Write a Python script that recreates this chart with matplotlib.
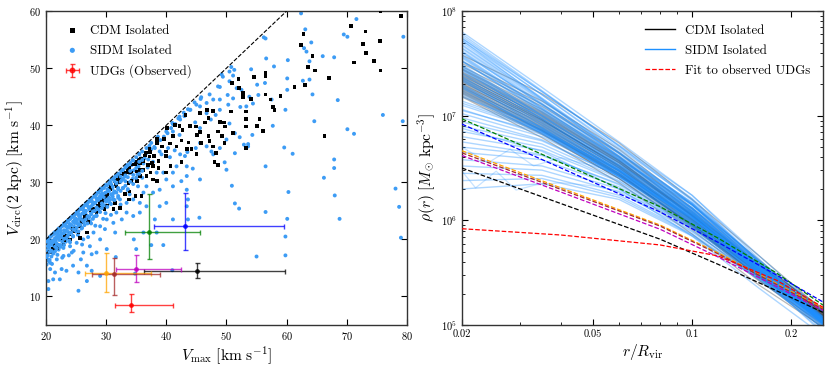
import numpy as np
import matplotlib
matplotlib.use("Agg")
import matplotlib.pyplot as plt
from matplotlib.ticker import FixedLocator, NullFormatter, LogLocator

plt.rcParams['font.family'] = 'serif'
plt.rcParams['font.serif'] = ['cmr10', 'DejaVu Serif']
plt.rcParams['mathtext.fontset'] = 'cm'
plt.rcParams['axes.formatter.use_mathtext'] = True

# ---- left panel data: (Vmax, Vcirc(2kpc)) ----
cdm_points = [
    (75.6, 60.0), (79.0, 59.1), (70.7, 57.4), (73.1, 56.4), (62.8, 56.0), (75.5, 54.8), (72.7, 54.2),
    (62.4, 54.1), (73.2, 52.7), (64.3, 52.1), (74.5, 51.2), (71.2, 51.0), (63.6, 50.2), (64.7, 49.6),
    (75.6, 49.6), (61.3, 46.7), (63.0, 47.1), (67.0, 48.3), (59.0, 45.1), (50.9, 47.4), (54.6, 48.4),
    (56.5, 48.6), (56.5, 49.2), (52.0, 48.1), (52.1, 46.5), (52.7, 45.6), (52.8, 45.0), (54.1, 44.6),
    (56.5, 45.4), (57.3, 44.5), (57.7, 43.2), (58.0, 42.7), (53.3, 42.4), (50.8, 42.4), (53.2, 41.1),
    (55.5, 41.1), (53.3, 39.8), (55.1, 39.9), (56.1, 39.0), (49.6, 40.5), (48.9, 40.6), (49.8, 39.8),
    (51.1, 38.6), (49.3, 38.1), (53.3, 36.0), (48.6, 38.9), (47.0, 38.1), (47.2, 37.2), (47.8, 36.3),
    (49.7, 36.9), (48.3, 35.1), (48.0, 33.5), (48.6, 33.0), (66.3, 38.1), (46.8, 42.7), (47.8, 42.5),
    (45.6, 42.1), (47.0, 41.3), (46.4, 40.5), (44.9, 39.8), (45.6, 38.8), (45.8, 36.9), (45.1, 38.3),
    (43.9, 39.9), (42.7, 39.2), (43.2, 41.8), (42.2, 39.9), (42.5, 37.3), (43.7, 37.0), (45.0, 35.0),
    (44.2, 35.8), (43.4, 35.8), (42.5, 33.5), (41.7, 36.3), (41.1, 38.1), (40.6, 36.8), (39.6, 37.6),
    (40.0, 35.4), (39.3, 36.3), (38.4, 36.9), (39.9, 34.6), (40.7, 32.8), (39.9, 31.7), (41.5, 40.0),
    (40.1, 39.5), (38.4, 37.6),
    (36.2, 33.7), (37.0, 33.0), (37.8, 32.8), (38.7, 32.5), (35.6, 32.2), (37.4, 31.7), (36.7, 31.1),
    (37.8, 30.5), (38.4, 30.2), (35.6, 31.1), (34.8, 33.1), (34.2, 31.7), (35.1, 30.2), (33.7, 29.9),
    (35.4, 33.9), (33.9, 32.5), (33.2, 31.6), (32.3, 31.1), (31.7, 29.3), (33.9, 28.4), (33.1, 27.9),
    (31.2, 27.0), (31.5, 26.4), (30.1, 27.6), (30.2, 27.8), (29.0, 26.4), (29.7, 25.3), (28.4, 24.7),
    (27.9, 25.0), (27.0, 23.0), (26.5, 24.1), (25.6, 22.3), (25.4, 21.2), (24.5, 21.8), (24.0, 20.0),
    (23.4, 20.6), (22.9, 19.1), (22.0, 18.8), (21.2, 18.3), (20.7, 17.7), (20.4, 17.8), (26.8, 21.2),
    (25.6, 20.3), (27.8, 25.3), (31.4, 30.2), (32.4, 30.9), (33.6, 32.2), (34.4, 33.1), (35.0, 33.6),
    (35.8, 34.2), (36.6, 35.2), (35.6, 33.4), (32.2, 30.1), (30.0, 27.4), (29.4, 26.6), (30.8, 29.4),
    (28.6, 25.8), (27.5, 25.2), (25.9, 23.0), (24.9, 21.8), (23.9, 21.0), (22.8, 19.8), (21.9, 19.0),
    (26.2, 23.4), (26.9, 24.0), (28.0, 25.0), (29.0, 26.5), (30.6, 28.8), (32.0, 30.5), (33.0, 31.4),
    (33.4, 31.7), (34.2, 30.2), (35.1, 31.9), (36.2, 32.2), (37.2, 34.5), (37.9, 34.6), (37.3, 35.3),
    (36.5, 34.7), (38.7, 33.7), (37.6, 33.4), (35.9, 27.6), (34.9, 27.6), (33.8, 27.0), (32.3, 25.5),
    (31.2, 25.3), (30.1, 25.8), (29.6, 26.9), (28.8, 25.6), (26.6, 23.7), (24.6, 21.5), (23.1, 20.4),
    (21.5, 19.0), (21.8, 18.5), (23.0, 19.8), (31.6, 29.6), (34.0, 31.8), (37.2, 35.8),
]

sidm_points = [
    (62.4, 59.6), (71.6, 58.6), (69.5, 55.9), (70.1, 55.5), (63.1, 56.8), (79.4, 55.5), (56.5, 55.2),
    (56.2, 55.4), (64.1, 54.5), (62.9, 53.5), (63.3, 52.9), (63.8, 51.2), (66.0, 52.1), (67.9, 51.9),
    (56.6, 51.7), (60.2, 51.4), (57.9, 50.3), (54.1, 49.8), (51.3, 49.7), (49.2, 48.9), (50.8, 50.2),
    (51.1, 48.7), (50.5, 47.7), (48.9, 46.7), (50.2, 45.3), (51.7, 46.5), (52.5, 46.2), (53.8, 45.0),
    (55.1, 47.1), (55.3, 45.3), (56.4, 47.4), (60.1, 46.2), (62.7, 47.8), (63.8, 48.0), (64.3, 45.4),
    (60.1, 48.2), (57.5, 44.5), (68.5, 44.4), (64.6, 40.7), (59.8, 42.7), (57.7, 39.9), (76.0, 41.8),
    (79.3, 40.7), (70.1, 39.3), (71.2, 38.5), (59.6, 36.1), (61.0, 35.0), (67.9, 34.0), (67.9, 32.5),
    (66.2, 30.8), (60.3, 28.3), (68.0, 27.7), (78.1, 28.9), (78.7, 25.7), (79.0, 20.3), (68.8, 23.6),
    (56.5, 32.8), (56.5, 24.8), (51.4, 26.3), (52.1, 25.4), (50.9, 29.4), (60.1, 23.6), (59.8, 20.5),
    (59.8, 17.2), (55.0, 17.0), (53.6, 36.3), (52.2, 37.9), (51.4, 35.1), (49.7, 33.5), (50.0, 32.2),
    (52.9, 36.6), (53.6, 36.7), (54.3, 38.3), (51.4, 38.6), (50.5, 40.3), (52.3, 43.2), (53.3, 43.3),
    (54.4, 43.8), (47.8, 44.5), (46.7, 43.9), (45.8, 44.9), (44.7, 44.0), (45.6, 43.3), (43.9, 42.7),
    (42.9, 42.2), (42.2, 41.5), (43.6, 42.8), (42.0, 41.2), (41.0, 40.4), (41.1, 40.2), (45.6, 36.9),
    (44.9, 36.0), (47.5, 35.4), (47.8, 34.9), (46.7, 36.3), (48.9, 36.0), (50.0, 37.5), (43.5, 35.3),
    (43.1, 34.6), (42.3, 34.9), (41.7, 32.8), (43.4, 32.8), (44.4, 32.4), (45.6, 30.5), (43.4, 31.1),
    (42.5, 30.2), (43.4, 28.7), (41.1, 29.3), (40.0, 30.5), (41.1, 31.7), (43.6, 27.0), (43.4, 25.8),
    (45.5, 23.8), (43.6, 23.5), (41.1, 23.5), (39.5, 19.0), (37.5, 19.0), (35.0, 18.3), (34.6, 20.0),
    (36.2, 21.2), (38.4, 21.2), (38.1, 23.5), (38.9, 25.8), (40.0, 26.4), (36.7, 25.8), (35.6, 24.7),
    (34.5, 24.1), (33.4, 24.7), (32.6, 23.5), (31.2, 22.9), (31.5, 21.2), (29.8, 21.8), (29.0, 20.0),
    (30.1, 18.3), (28.4, 17.7), (27.3, 18.8), (26.2, 17.7), (25.8, 16.5), (26.8, 15.4), (27.6, 14.5),
    (25.4, 14.2), (24.5, 15.4), (23.4, 14.5), (22.6, 14.8), (21.5, 14.2), (20.7, 14.8), (21.2, 13.0),
    (20.4, 12.7), (22.3, 13.0), (25.4, 11.0), (26.8, 12.7), (20.4, 11.3), (29.0, 13.6), (27.6, 17.4),
    (24.3, 17.7), (22.9, 17.1), (21.8, 16.5), (20.7, 15.9), (24.0, 18.8), (25.1, 19.4), (26.2, 20.0),
    (27.9, 21.2), (29.0, 22.3), (30.1, 23.5), (28.4, 24.1), (27.3, 23.2), (31.7, 24.7), (30.6, 26.4),
    (32.3, 27.0), (33.4, 26.4), (34.5, 27.0), (35.6, 26.4), (36.2, 28.2), (35.3, 29.3), (36.7, 29.3),
    (37.8, 28.2), (38.9, 28.7), (39.5, 31.7), (38.4, 31.7), (40.6, 34.4), (41.4, 35.6), (38.9, 35.4),
    (38.1, 36.0), (37.5, 36.9), (36.7, 36.0), (37.2, 36.4), (38.6, 38.0), (40.0, 38.9), (41.1, 38.9),
    (42.2, 38.3), (46.7, 42.1), (48.2, 41.8), (48.9, 42.7), (44.8, 40.5), (45.6, 39.5), (47.4, 41.0),
    (48.9, 44.5), (50.3, 43.6), (51.1, 44.7), (41.0, 14.6), (34.8, 14.0), (31.6, 16.9),
    (20.2, 20.0), (20.3, 19.2), (20.5, 18.5), (20.6, 20.3), (20.8, 19.6), (21.0, 20.8), (21.1, 19.8),
    (21.2, 18.9), (21.4, 21.0), (21.5, 20.2), (21.7, 19.4), (21.8, 21.5), (22.0, 20.8), (22.1, 21.7),
    (22.2, 19.9), (22.4, 22.0), (22.5, 21.1), (22.7, 20.3), (22.8, 22.4), (23.0, 21.6), (23.1, 22.7),
    (23.2, 20.8), (23.4, 23.0), (23.5, 22.2), (23.7, 21.3), (23.8, 23.4), (24.0, 22.6), (24.1, 23.7),
    (24.2, 21.9), (24.4, 24.0), (24.5, 23.1), (24.7, 22.2), (24.8, 24.3), (25.0, 23.6), (25.1, 24.6),
    (25.2, 22.8), (25.4, 25.0), (25.5, 24.1), (25.7, 23.2), (25.8, 25.3), (26.0, 24.5), (26.2, 25.6),
    (26.3, 23.6), (26.5, 26.0), (26.6, 25.0), (26.8, 24.2), (27.0, 26.5), (27.1, 25.6), (27.3, 26.9),
    (27.4, 24.8), (27.6, 27.2), (27.8, 26.1), (28.0, 27.5), (28.1, 25.4), (28.3, 27.8), (28.5, 26.8),
    (28.7, 28.2), (28.9, 27.3), (29.0, 25.9), (29.2, 28.6), (29.4, 27.8), (29.6, 29.0), (29.8, 28.1),
    (30.0, 26.6), (30.2, 29.5), (30.4, 28.6), (30.7, 30.0), (30.9, 29.1), (31.1, 27.5), (31.3, 30.5),
    (31.6, 29.6), (31.8, 30.9), (32.0, 28.8), (32.3, 31.4), (32.6, 30.4), (32.9, 31.8), (33.2, 30.2),
    (33.5, 32.4), (33.9, 31.6), (34.2, 33.0), (34.6, 32.1), (35.0, 33.5), (35.4, 32.8), (35.8, 34.2),
    (36.2, 33.3), (36.6, 35.0), (37.0, 34.0), (37.5, 35.8), (38.0, 36.2), (38.5, 36.9), (39.0, 37.4),
    (39.6, 38.0), (40.2, 38.6), (40.8, 39.5), (41.5, 40.2), (42.3, 41.0), (43.0, 41.6), (44.0, 42.7),
    (45.0, 43.6), (45.7, 44.6), (47.2, 45.4), (48.6, 46.8), (49.4, 48.5), (50.5, 49.4),
    (20.1, 17.4), (20.2, 16.6), (20.4, 17.9), (20.9, 17.0), (21.3, 17.8), (21.6, 18.6), (22.1, 18.2),
    (22.4, 19.0), (22.9, 18.5), (23.3, 19.6), (23.6, 20.2), (24.0, 19.5), (24.5, 20.6), (24.9, 21.4),
    (25.3, 20.8), (25.9, 21.9), (26.4, 22.5), (26.9, 23.3), (27.5, 22.8), (28.0, 24.0), (28.6, 24.9),
    (29.3, 25.5), (29.9, 24.6), (30.5, 26.9), (31.2, 28.1), (32.0, 27.3), (32.8, 29.0), (33.6, 28.6),
    (34.4, 30.6), (35.2, 31.4), (36.0, 30.8), (36.9, 32.6), (37.8, 33.6), (39.2, 34.9), (40.3, 36.0),
    (20.1, 15.6), (20.5, 16.2), (21.0, 15.7), (21.9, 17.3), (22.7, 16.8), (23.8, 17.2), (24.6, 18.0),
    (26.0, 19.1), (27.0, 20.4), (28.2, 22.4), (29.5, 23.6), (30.8, 24.3), (32.4, 26.1), (33.9, 27.9),
    (20.3, 19.8), (20.7, 20.5), (21.3, 21.1), (21.9, 21.2), (22.6, 22.3), (23.3, 22.9), (23.9, 23.5),
    (24.6, 24.1), (25.3, 24.9), (26.1, 25.8), (26.8, 26.4), (27.6, 26.6), (28.4, 28.1), (29.1, 28.9),
    (29.9, 29.5), (30.6, 30.3), (31.5, 31.0), (32.5, 32.0), (33.4, 33.0), (34.4, 33.9), (35.5, 35.0),
    (20.6, 19.0), (21.6, 19.9), (22.3, 20.6), (23.1, 21.3), (23.9, 22.1), (24.7, 22.9), (25.6, 23.6),
    (26.5, 24.6), (27.3, 25.4), (28.2, 26.4), (29.1, 27.1), (30.1, 28.2), (31.0, 28.9), (32.1, 30.0),
    (33.1, 31.0), (34.1, 31.9), (35.2, 33.0), (36.4, 34.2),
]

# extra SIDM haloes in the dense band just below the V_circ = V_max line
sidm_band = [
    (20.0, 19.6), (20.0, 18.1), (20.0, 16.9), (20.3, 20.0), (20.3, 18.8), (20.3, 17.2),
    (20.6, 19.5), (20.6, 17.8), (20.6, 16.4), (20.9, 20.6), (20.9, 19.1), (20.9, 18.0),
    (21.2, 20.9), (21.2, 19.5), (21.2, 17.5), (21.5, 21.3), (21.5, 18.7), (21.5, 17.9),
    (21.8, 20.5), (21.8, 19.2), (21.8, 18.4), (22.1, 21.9), (22.1, 20.2), (22.1, 19.0),
    (22.4, 21.5), (22.4, 20.6), (22.4, 18.7), (22.7, 22.4), (22.7, 21.0), (22.7, 19.6),
    (23.0, 22.8), (23.0, 20.1), (23.0, 19.0), (23.3, 22.3), (23.3, 21.5), (23.3, 20.2),
    (23.6, 23.3), (23.6, 22.0), (23.6, 20.6), (23.9, 22.7), (23.9, 21.0), (23.9, 19.8),
    (24.2, 23.9), (24.2, 22.5), (24.2, 21.2), (24.5, 24.2), (24.5, 21.8), (24.5, 20.5),
    (24.8, 23.5), (24.8, 22.9), (24.8, 21.6), (25.1, 24.8), (25.1, 23.3), (25.1, 22.0),
    (25.4, 24.4), (25.4, 22.5), (25.4, 21.4), (25.7, 25.4), (25.7, 24.0), (25.7, 22.6),
    (26.0, 25.7), (26.0, 23.4), (26.0, 22.0), (26.3, 25.0), (26.3, 24.6), (26.3, 23.0),
    (26.6, 26.3), (26.6, 24.9), (26.6, 23.5), (26.9, 25.9), (26.9, 24.0), (26.9, 22.8),
    (27.2, 26.8), (27.2, 25.3), (27.2, 23.9), (27.5, 27.1), (27.5, 25.8), (27.5, 24.4),
    (27.8, 26.5), (27.8, 24.9), (27.8, 23.6), (28.1, 27.7), (28.1, 26.4), (28.1, 25.0),
    (28.4, 27.2), (28.4, 25.6), (28.4, 24.2), (28.7, 28.3), (28.7, 26.9), (28.7, 25.3),
    (29.0, 28.6), (29.0, 27.6), (29.0, 24.8), (29.3, 28.0), (29.3, 26.3), (29.3, 25.5),
    (29.6, 29.1), (29.6, 27.4), (29.6, 26.0), (29.9, 29.5), (29.9, 28.2), (29.9, 26.8),
    (30.2, 28.8), (30.2, 27.0), (30.2, 25.7), (30.5, 30.0), (30.5, 28.5), (30.5, 27.3),
    (30.8, 29.7), (30.8, 27.9), (30.8, 26.2), (31.1, 30.6), (31.1, 29.2), (31.1, 27.0),
    (31.4, 30.2), (31.4, 28.4), (31.4, 26.9), (31.7, 31.2), (31.7, 29.8), (31.7, 28.2),
    (32.0, 31.5), (32.0, 29.0), (32.0, 27.6), (32.4, 31.0), (32.4, 30.1), (32.4, 28.5),
    (32.8, 32.2), (32.8, 30.6), (32.8, 29.0), (33.2, 32.6), (33.2, 31.2), (33.2, 29.4),
    (33.6, 33.0), (33.6, 30.9), (33.6, 28.8), (34.0, 33.4), (34.0, 32.0), (34.0, 30.1),
    (34.5, 33.8), (34.5, 31.3), (34.5, 29.7), (35.0, 34.4), (35.0, 32.5), (35.0, 30.8),
    (35.5, 34.9), (35.5, 33.6), (35.5, 31.5), (36.0, 35.4), (36.0, 33.9), (36.0, 32.0),
]

# observed UDGs (Vmax, Vcirc) with asymmetric ranges
udg_vmax = [37.2, 43.1, 45.1, 35.0, 30.0, 31.3, 34.2]
udg_vmax_lo = [33.1, 37.9, 36.3, 31.6, 26.5, 27.7, 31.5]
udg_vmax_hi = [45.6, 59.5, 59.8, 42.4, 37.5, 39.0, 41.1]
udg_vcirc = [21.35, 22.35, 14.4, 14.9, 14.2, 14.0, 8.5]
udg_vcirc_lo = [16.6, 18.1, 13.2, 12.6, 10.7, 10.2, 7.2]
udg_vcirc_hi = [27.9, 28.2, 15.8, 17.2, 17.7, 16.8, 10.35]
udg_colors = ['green', 'blue', 'black', 'm', 'orange', 'brown', 'red']

# ---- right panel data: log10 density profiles ----
r_nodes = [0.02, 0.035, 0.06, 0.1, 0.16, 0.25]
cdm_profiles = [
    [7.58, 7.21, 6.74, 6.20, 5.66, 5.14], [7.52, 7.14, 6.68, 6.15, 5.62, 5.12],
    [7.47, 7.09, 6.64, 6.11, 5.58, 5.10], [7.44, 7.04, 6.60, 6.08, 5.57, 5.11],
    [7.41, 7.02, 6.57, 6.05, 5.54, 5.08], [7.39, 6.99, 6.55, 6.04, 5.55, 5.12],
    [7.37, 6.97, 6.52, 6.01, 5.52, 5.09], [7.35, 6.96, 6.52, 6.02, 5.51, 5.06],
    [7.33, 6.94, 6.50, 6.00, 5.50, 5.08], [7.31, 6.92, 6.48, 5.98, 5.49, 5.07],
    [7.30, 6.93, 6.50, 6.01, 5.53, 5.13], [7.28, 6.89, 6.45, 5.96, 5.47, 5.05],
    [7.27, 6.90, 6.47, 5.99, 5.51, 5.10], [7.25, 6.87, 6.44, 5.95, 5.46, 5.04],
    [7.24, 6.86, 6.43, 5.94, 5.47, 5.06], [7.22, 6.85, 6.43, 5.96, 5.50, 5.11],
    [7.21, 6.83, 6.40, 5.91, 5.42, 5.01], [7.19, 6.82, 6.40, 5.93, 5.46, 5.07],
    [7.18, 6.79, 6.36, 5.87, 5.38, 4.98], [7.36, 6.98, 6.55, 6.06, 5.58, 5.16],
    [7.42, 7.03, 6.58, 6.05, 5.52, 5.03], [7.29, 6.91, 6.47, 5.97, 5.45, 4.99],
    [7.50, 7.11, 6.65, 6.12, 5.60, 5.13], [7.32, 6.95, 6.53, 6.05, 5.57, 5.15],
    [7.26, 6.88, 6.45, 5.95, 5.43, 4.97], [7.38, 7.00, 6.56, 6.04, 5.53, 5.07],
    [7.45, 7.06, 6.61, 6.09, 5.57, 5.09], [7.23, 6.86, 6.44, 5.96, 5.49, 5.09],
    [7.34, 6.96, 6.51, 6.00, 5.48, 5.02], [7.40, 7.01, 6.57, 6.07, 5.57, 5.12],
]
sidm_profiles = [
    [7.80, 7.27, 6.75, 6.24, 5.63, 5.05], [7.76, 7.23, 6.71, 6.21, 5.61, 5.04],
    [7.72, 7.20, 6.69, 6.20, 5.60, 5.05], [7.78, 7.24, 6.71, 6.19, 5.60, 5.07],
    [7.74, 7.20, 6.67, 6.16, 5.57, 5.03], [7.70, 7.17, 6.65, 6.15, 5.57, 5.04],
    [7.67, 7.15, 6.64, 6.15, 5.58, 5.06], [7.64, 7.12, 6.61, 6.12, 5.55, 5.02],
    [7.61, 7.10, 6.60, 6.12, 5.56, 5.04], [7.58, 7.08, 6.59, 6.11, 5.55, 5.03],
    [7.55, 7.06, 6.57, 6.10, 5.55, 5.05], [7.52, 7.03, 6.55, 6.09, 5.54, 5.02],
    [7.49, 7.01, 6.54, 6.08, 5.54, 5.04], [7.46, 6.99, 6.52, 6.07, 5.53, 5.01],
    [7.43, 6.97, 6.51, 6.07, 5.54, 5.05], [7.40, 6.95, 6.50, 6.06, 5.53, 5.03],
    [7.37, 6.93, 6.48, 6.05, 5.52, 5.02], [7.34, 6.91, 6.47, 6.04, 5.53, 5.05],
    [7.30, 6.88, 6.45, 6.03, 5.52, 5.03], [7.26, 6.86, 6.44, 6.03, 5.52, 5.04],
    [7.22, 6.83, 6.42, 6.02, 5.52, 5.05], [7.18, 6.89, 6.49, 6.01, 5.51, 5.03],
    [7.14, 6.87, 6.48, 6.00, 5.51, 5.04], [7.10, 6.85, 6.47, 6.00, 5.51, 5.05],
    [7.06, 6.82, 6.45, 5.99, 5.50, 5.02], [7.02, 6.80, 6.44, 5.98, 5.50, 5.04],
    [6.98, 6.77, 6.42, 5.97, 5.49, 5.01], [6.94, 6.76, 6.42, 5.97, 5.50, 5.05],
    [6.90, 6.73, 6.40, 5.96, 5.49, 5.03], [6.85, 6.70, 6.38, 5.95, 5.48, 5.02],
    [6.80, 6.67, 6.37, 5.95, 5.49, 5.04], [6.75, 6.63, 6.34, 5.93, 5.47, 5.00],
    [6.70, 6.62, 6.35, 5.94, 5.48, 5.03], [6.65, 6.58, 6.32, 5.92, 5.47, 5.01],
    [6.58, 6.52, 6.30, 5.90, 5.45, 4.99], [6.52, 6.48, 6.27, 5.89, 5.46, 5.02],
    [6.45, 6.43, 6.24, 5.87, 5.44, 4.98], [6.38, 6.40, 6.22, 5.86, 5.43, 4.97],
    [6.30, 6.35, 6.20, 5.85, 5.44, 5.01], [7.74, 7.23, 6.72, 6.24, 5.66, 5.12],
    [7.60, 7.11, 6.62, 6.16, 5.62, 5.13], [7.45, 6.97, 6.49, 6.04, 5.50, 4.96],
    [7.35, 6.88, 6.42, 5.99, 5.46, 4.94], [7.72, 7.16, 6.61, 6.08, 5.48, 4.92],
    [7.05, 6.84, 6.48, 6.02, 5.56, 5.14], [6.88, 6.66, 6.30, 5.85, 5.35, 4.90],
    [7.52, 7.05, 6.58, 6.15, 5.60, 5.08], [7.28, 6.85, 6.41, 5.98, 5.47, 5.00],
    [7.68, 7.16, 6.65, 6.17, 5.60, 5.06], [7.62, 7.11, 6.61, 6.14, 5.58, 5.05],
    [7.57, 7.07, 6.58, 6.12, 5.57, 5.06], [7.53, 7.04, 6.56, 6.11, 5.57, 5.07],
    [7.48, 7.00, 6.53, 6.09, 5.55, 5.04], [7.44, 6.97, 6.52, 6.09, 5.56, 5.06],
    [7.41, 6.95, 6.50, 6.07, 5.54, 5.03], [7.38, 6.93, 6.48, 6.06, 5.54, 5.04],
    [7.33, 6.89, 6.46, 6.04, 5.53, 5.04], [7.29, 6.87, 6.45, 6.03, 5.52, 5.02],
    [7.24, 6.84, 6.43, 6.03, 5.53, 5.05], [7.20, 6.83, 6.42, 6.02, 5.52, 5.04],
    [7.65, 7.14, 6.64, 6.17, 5.61, 5.08], [7.56, 7.07, 6.59, 6.15, 5.60, 5.07],
    [7.47, 7.00, 6.53, 6.11, 5.57, 5.05], [7.36, 6.91, 6.48, 6.06, 5.55, 5.05],
    [7.27, 6.85, 6.44, 6.05, 5.54, 5.05], [7.12, 6.86, 6.47, 6.00, 5.51, 5.03],
]
# two noisy cored SIDM haloes
noisy_r = [[0.02, 0.022, 0.0254, 0.0292, 0.0336, 0.04, 0.05, 0.06, 0.08, 0.1, 0.16, 0.25],
           [0.02, 0.024, 0.028, 0.033, 0.04, 0.05, 0.06, 0.08, 0.1, 0.16, 0.25]]
noisy_logrho = [[6.47, 6.31, 6.47, 6.29, 6.34, 6.36, 6.33, 6.28, 6.10, 5.93, 5.45, 5.00],
                [6.70, 6.55, 6.68, 6.52, 6.60, 6.52, 6.45, 6.25, 6.05, 5.50, 5.02]]

# fits to the observed UDGs
fit_r = [0.02, 0.04, 0.08, 0.12, 0.18, 0.25]
fit_logrho = [
    [6.97, 6.55, 6.13, 5.83, 5.50, 5.19],
    [6.92, 6.50, 6.08, 5.79, 5.48, 5.22],
    [6.665, 6.31, 5.955, 5.69, 5.40, 5.16],
    [6.645, 6.295, 5.945, 5.68, 5.39, 5.15],
    [6.62, 6.27, 5.915, 5.65, 5.37, 5.14],
    [6.50, 6.16, 5.82, 5.58, 5.33, 5.12],
    [5.92, 5.86, 5.765, 5.66, 5.43, 5.17],
]
fit_colors = ['green', 'blue', 'orange', 'brown', 'm', 'black', 'red']

fig = plt.figure(figsize=(8.3, 3.69), dpi=100)
ax1 = fig.add_axes([0.0554, 0.1192, 0.4349, 0.8508])
ax2 = fig.add_axes([0.5566, 0.1192, 0.4350, 0.8508])

# left panel
sidm = np.array(sidm_points)
band = np.array(sidm_band)
cdm = np.array(cdm_points)
ax1.scatter(sidm[:, 0], sidm[:, 1], s=8, c='#3d9cf5', edgecolors='none', zorder=2,
            label='SIDM Isolated')
ax1.scatter(cdm[:, 0], cdm[:, 1], s=7, c='black', marker='s', edgecolors='none', zorder=3,
            label='CDM Isolated')
ax1.scatter(band[:, 0], band[:, 1], s=8, c='#3d9cf5', edgecolors='none', zorder=3.5)
ax1.plot([20, 60], [20, 60], 'k--', lw=0.8, zorder=4)
for i in range(len(udg_vmax)):
    xe = [[udg_vmax[i] - udg_vmax_lo[i]], [udg_vmax_hi[i] - udg_vmax[i]]]
    ye = [[udg_vcirc[i] - udg_vcirc_lo[i]], [udg_vcirc_hi[i] - udg_vcirc[i]]]
    ax1.errorbar(udg_vmax[i], udg_vcirc[i], xerr=xe, yerr=ye, fmt='o', ms=2.5,
                 color=udg_colors[i], elinewidth=1.0, capsize=1.8, alpha=0.75, zorder=5,
                 label='UDGs (Observed)' if udg_colors[i] == 'red' else None)
ax1.set_xlim(20, 80)
ax1.set_ylim(5, 60)
ax1.set_xticks([20, 30, 40, 50, 60, 70, 80])
ax1.set_yticks([10, 20, 30, 40, 50, 60])
ax1.set_xlabel(r'$V_{\rm max}\ [{\rm km\ s^{-1}}]$', fontsize=11.2, labelpad=2)
ax1.set_ylabel(r'$V_{\rm circ}(2\ {\rm kpc})\ [{\rm km\ s^{-1}}]$', fontsize=11.2, labelpad=2)
h, l = ax1.get_legend_handles_labels()
order = [l.index('CDM Isolated'), l.index('SIDM Isolated'), l.index('UDGs (Observed)')]
ax1.legend([h[i] for i in order], [l[i] for i in order], loc='upper left',
           bbox_to_anchor=(0.039, 0.973), borderaxespad=0, frameon=False,
           fontsize=9.3, markerscale=1.3, handlelength=1.1, handletextpad=0.8,
           labelspacing=0.6)

# right panel: CDM haloes underneath, SIDM haloes over them
for prof in cdm_profiles:
    ax2.plot(r_nodes, 10 ** np.array(prof), color='black', lw=0.9, alpha=0.28, zorder=1)
for prof in sidm_profiles:
    ax2.plot(r_nodes, 10 ** np.array(prof), color='#1e8fff', lw=1.0, alpha=0.36, zorder=2)
for rr, prof in zip(noisy_r, noisy_logrho):
    ax2.plot(rr, 10 ** np.array(prof), color='#1e8fff', lw=0.9, alpha=0.25, zorder=2)
for prof, c in zip(fit_logrho, fit_colors):
    ax2.plot(fit_r, 10 ** np.array(prof), color=c, ls='--', lw=0.9, zorder=3)
ax2.plot([], [], color='black', lw=1.0, label='CDM Isolated')
ax2.plot([], [], color='dodgerblue', lw=1.0, label='SIDM Isolated')
ax2.plot([], [], color='red', ls='--', lw=0.9, label='Fit to observed UDGs')
ax2.set_xscale('log')
ax2.set_yscale('log')
ax2.set_xlim(0.02, 0.25)
ax2.set_ylim(1e5, 1e8)
ax2.xaxis.set_major_locator(FixedLocator([0.02, 0.05, 0.1, 0.2]))
ax2.set_xticklabels(['0.02', '0.05', '0.1', '0.2'])
ax2.xaxis.set_minor_locator(LogLocator(base=10, subs=np.arange(2, 10)))
ax2.xaxis.set_minor_formatter(NullFormatter())
ax2.set_xlabel(r'$r/R_{\rm vir}$', fontsize=11.2, labelpad=2)
ax2.set_ylabel(r'$\rho(r)\ [M_{\odot}\ {\rm kpc^{-3}}]$', fontsize=11.2, labelpad=2)
ax2.legend(loc='upper right', bbox_to_anchor=(0.98, 0.973), borderaxespad=0,
           frameon=False, fontsize=9.3, handlelength=2.3, handletextpad=0.8,
           labelspacing=0.6)

for ax in (ax1, ax2):
    ax.tick_params(which='both', direction='in', top=True, right=True, labelsize=7.5)
    ax.tick_params(which='major', length=4)
    ax.tick_params(which='minor', length=2)
    for sp in ax.spines.values():
        sp.set_linewidth(1.0)
        sp.set_color('#333333')

fig.savefig('out.png', dpi=100)
